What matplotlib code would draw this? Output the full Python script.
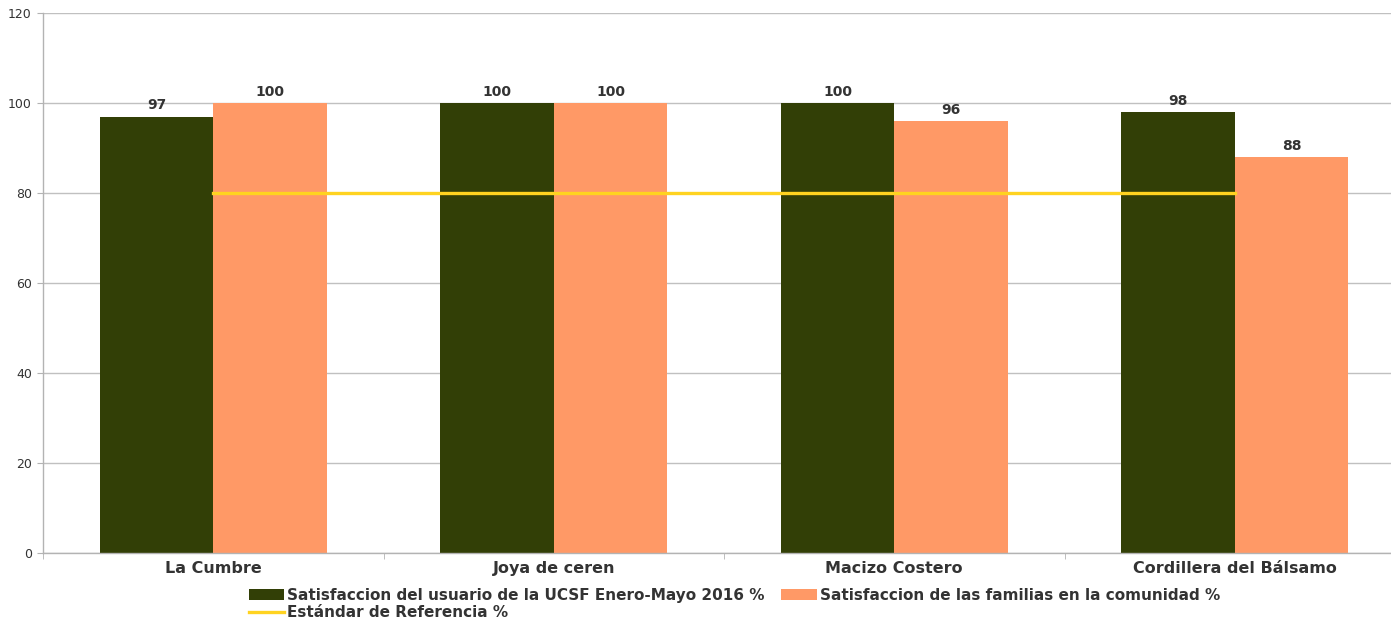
import numpy as np
import matplotlib.pyplot as plt

categorias = ['La Cumbre', 'Joya de ceren', 'Macizo Costero', 'Cordillera del Bálsamo']
usuario = [97, 100, 100, 98]
familias = [100, 100, 96, 88]
estandar = [80, 80, 80, 80]

nombres = ['Satisfaccion del usuario de la UCSF Enero-Mayo 2016 %',
           'Satisfaccion de las familias en la comunidad %',
           'Estándar de Referencia %']

plt.rcParams['font.family'] = ['DejaVu Sans']

fig = plt.figure(figsize=(13.91, 6.18), dpi=100)
ax = fig.add_axes([43 / 1391, 1 - 553 / 618, 1362 / 1391, 540 / 618])

ind = np.arange(len(categorias))
width = 1 / 3

b1 = ax.bar(ind - width / 2, usuario, width, color='#323F06', label=nombres[0], zorder=2)
b2 = ax.bar(ind + width / 2, familias, width, color='#FF9966', label=nombres[1], zorder=2)
ln, = ax.plot(ind, estandar, color='#FFD320', lw=2.4, label=nombres[2], zorder=3)

for rects in (b1, b2):
    for r in rects:
        ax.annotate('%d' % r.get_height(), (r.get_x() + r.get_width() / 2, r.get_height()),
                    xytext=(0, 3), textcoords='offset points', ha='center', va='bottom',
                    fontsize=10, fontweight='bold', color='#333333')

ax.set_xlim(-0.5, 3.5)
ax.set_ylim(0, 120)
ax.set_yticks(np.arange(0, 121, 20))
ax.yaxis.grid(True, color='#C0C0C0', lw=1, zorder=0)
ax.set_axisbelow(True)

ax.set_xticks(ind)
ax.set_xticklabels(categorias, fontsize=11.5, fontweight='bold', color='#333333')
ax.set_xticks(np.arange(-0.5, 3.6, 1), minor=True)
ax.tick_params(axis='x', which='major', length=0, pad=6)
ax.tick_params(axis='x', which='minor', length=4, color='#B3B3B3', direction='out')
ax.tick_params(axis='y', length=4, color='#B3B3B3', labelsize=9, labelcolor='#333333', pad=4)

for s in ('top', 'right'):
    ax.spines[s].set_visible(False)
for s in ('left', 'bottom'):
    ax.spines[s].set_color('#B3B3B3')
    ax.spines[s].set_linewidth(1)

# legend fills column by column: first column = usuario + estandar
fig.legend(handles=[b1, ln, b2], labels=[nombres[0], nombres[2], nombres[1]], ncol=2,
           loc='center', bbox_to_anchor=(0.528, 1 - 604 / 618), frameon=False,
           prop={'size': 11, 'weight': 'bold'}, labelcolor='#333333',
           handlelength=2.3, handleheight=0.7, handletextpad=0.2,
           columnspacing=1.1, labelspacing=0.12, borderpad=0)

fig.savefig('out.png', dpi=100)
